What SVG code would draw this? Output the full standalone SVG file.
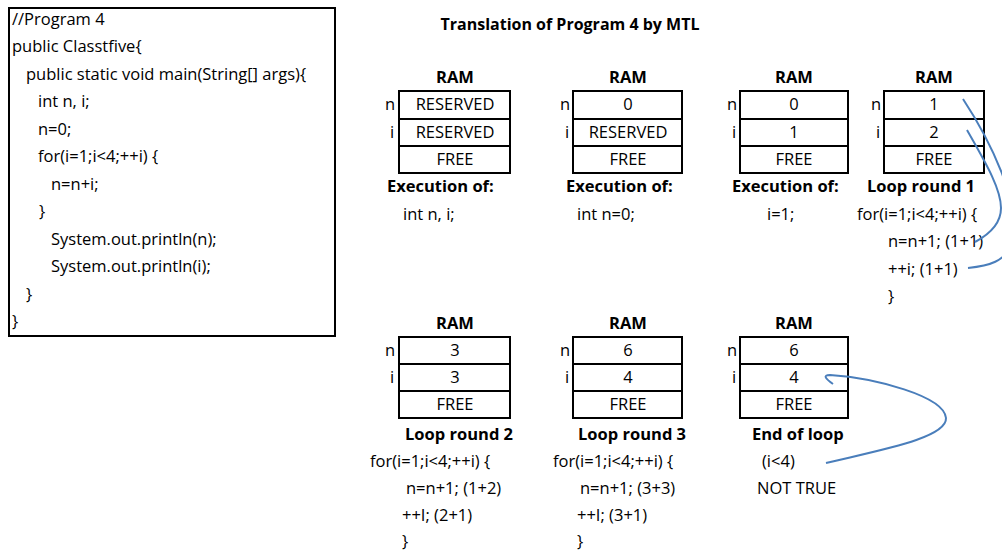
<svg xmlns="http://www.w3.org/2000/svg" width="1002" height="550" viewBox="0 0 1002 550">
<style>
  text { font-family: "Open Sans", "Noto Sans", sans-serif; font-size: 16.5px; fill: #000; }
  .b { font-weight: bold; }
  .m { text-anchor: middle; }
  .t { font-size: 16px; }
  .box { fill: #fff; stroke: #000; stroke-width: 2; }
  .cell { fill: none; stroke: #000; stroke-width: 2; }
  .conn { fill: none; stroke: #4a7ebb; stroke-width: 2; }
</style>
<rect width="1002" height="550" fill="#fff"/>

<g id="code">
  <rect class="box" x="9" y="8" width="326" height="328"/>
  <text x="12" y="24.5">//Program 4</text>
  <text x="12" y="52">public Classtfive{</text>
  <text x="26" y="79.5">public static void main(String[] args){</text>
  <text x="38" y="107">int n, i;</text>
  <text x="38" y="134.5">n=0;</text>
  <text x="38" y="162">for(i=1;i&lt;4;++i) {</text>
  <text x="51" y="189.5">n=n+i;</text>
  <text x="39" y="217">}</text>
  <text x="51" y="244.5">System.out.println(n);</text>
  <text x="51" y="272">System.out.println(i);</text>
  <text x="26" y="299.5">}</text>
  <text x="12" y="327">}</text>
</g>

<g id="title">
  <text class="b m t" x="570" y="30">Translation of Program 4 by MTL</text>
</g>

<g id="ram1">
  <text class="b m" x="455" y="83">RAM</text>
  <rect class="cell" x="399" y="91" width="111" height="82"/>
  <line class="cell" x1="399" y1="119" x2="510" y2="119"/>
  <line class="cell" x1="399" y1="146" x2="510" y2="146"/>
  <text x="385" y="110">n</text>
  <text x="390" y="138">i</text>
  <text class="m" x="455" y="110">RESERVED</text>
  <text class="m" x="455" y="138">RESERVED</text>
  <text class="m" x="455" y="165">FREE</text>
  <text class="b" x="387" y="192">Execution of:</text>
  <text x="403" y="220">int n, i;</text>
</g>

<g id="ram2">
  <text class="b m" x="628" y="83">RAM</text>
  <rect class="cell" x="573" y="91" width="109" height="82"/>
  <line class="cell" x1="573" y1="119" x2="682" y2="119"/>
  <line class="cell" x1="573" y1="146" x2="682" y2="146"/>
  <text x="560" y="110">n</text>
  <text x="565" y="138">i</text>
  <text class="m" x="628" y="110">0</text>
  <text class="m" x="628" y="138">RESERVED</text>
  <text class="m" x="628" y="165">FREE</text>
  <text class="b" x="566" y="192">Execution of:</text>
  <text x="577" y="220">int n=0;</text>
</g>

<g id="ram3">
  <text class="b m" x="794" y="83">RAM</text>
  <rect class="cell" x="740" y="91" width="108" height="82"/>
  <line class="cell" x1="740" y1="119" x2="848" y2="119"/>
  <line class="cell" x1="740" y1="146" x2="848" y2="146"/>
  <text x="727" y="110">n</text>
  <text x="732" y="138">i</text>
  <text class="m" x="794" y="110">0</text>
  <text class="m" x="794" y="138">1</text>
  <text class="m" x="794" y="165">FREE</text>
  <text class="b" x="732" y="192">Execution of:</text>
  <text x="767" y="220">i=1;</text>
</g>

<g id="ram4">
  <text class="b m" x="934" y="83">RAM</text>
  <rect class="cell" x="884" y="91" width="100" height="82"/>
  <line class="cell" x1="884" y1="119" x2="984" y2="119"/>
  <line class="cell" x1="884" y1="146" x2="984" y2="146"/>
  <text x="871" y="110">n</text>
  <text x="876" y="138">i</text>
  <text class="m" x="934" y="110">1</text>
  <text class="m" x="934" y="138">2</text>
  <text class="m" x="934" y="165">FREE</text>
  <text class="b" x="867" y="192">Loop round 1</text>
  <text x="857" y="220">for(i=1;i&lt;4;++i) {</text>
  <text x="888" y="247">n=n+1; (1+1)</text>
  <text x="888" y="275">++i; (1+1)</text>
  <text x="888" y="302">}</text>
</g>

<g id="ram5">
  <text class="b m" x="455" y="329">RAM</text>
  <rect class="cell" x="399" y="337" width="111" height="81"/>
  <line class="cell" x1="399" y1="364" x2="510" y2="364"/>
  <line class="cell" x1="399" y1="391" x2="510" y2="391"/>
  <text x="385" y="356">n</text>
  <text x="390" y="383">i</text>
  <text class="m" x="455" y="356">3</text>
  <text class="m" x="455" y="383">3</text>
  <text class="m" x="455" y="410">FREE</text>
  <text class="b" x="405" y="440">Loop round 2</text>
  <text x="370" y="467">for(i=1;i&lt;4;++i) {</text>
  <text x="406" y="494">n=n+1; (1+2)</text>
  <text x="402" y="521">++I; (2+1)</text>
  <text x="402" y="547">}</text>
</g>

<g id="ram6">
  <text class="b m" x="628" y="329">RAM</text>
  <rect class="cell" x="573" y="337" width="109" height="81"/>
  <line class="cell" x1="573" y1="364" x2="682" y2="364"/>
  <line class="cell" x1="573" y1="391" x2="682" y2="391"/>
  <text x="560" y="356">n</text>
  <text x="565" y="383">i</text>
  <text class="m" x="628" y="356">6</text>
  <text class="m" x="628" y="383">4</text>
  <text class="m" x="628" y="410">FREE</text>
  <text class="b" x="578" y="440">Loop round 3</text>
  <text x="553" y="467">for(i=1;i&lt;4;++i) {</text>
  <text x="580" y="494">n=n+1; (3+3)</text>
  <text x="577" y="521">++I; (3+1)</text>
  <text x="577" y="547">}</text>
</g>

<g id="ram7">
  <text class="b m" x="794" y="329">RAM</text>
  <rect class="cell" x="740" y="337" width="108" height="81"/>
  <line class="cell" x1="740" y1="364" x2="848" y2="364"/>
  <line class="cell" x1="740" y1="391" x2="848" y2="391"/>
  <text x="727" y="356">n</text>
  <text x="732" y="383">i</text>
  <text class="m" x="794" y="356">6</text>
  <text class="m" x="794" y="383">4</text>
  <text class="m" x="794" y="410">FREE</text>
  <text class="b" x="752" y="440">End of loop</text>
  <text x="762" y="467">(i&lt;4)</text>
  <text x="757" y="494">NOT TRUE</text>
</g>

<g id="connectors">
  <path class="conn" d="M963,99 C990,140 1022,205 1012,242 C1006,262 988,266 968,268"/>
  <path class="conn" d="M967,130 C984,160 1001,188 1001,208 C1001,224 990,234 975,242"/>
  <path class="conn" d="M833,384 C826,379 822,375 830,375 C875,378 944,396 946,418 C947,438 880,450 826,463"/>
</g>
</svg>
